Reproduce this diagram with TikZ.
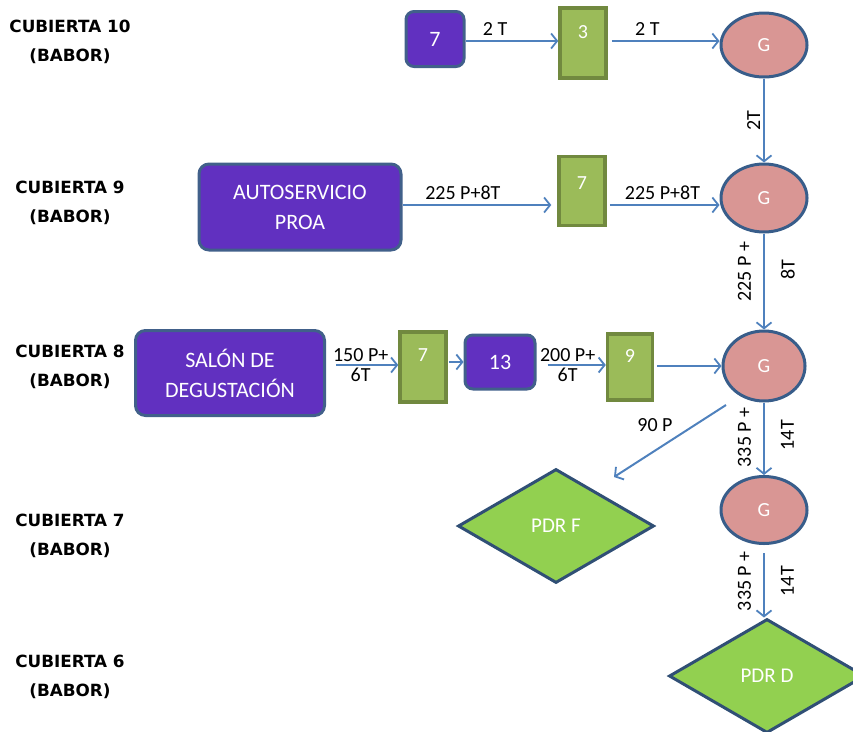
\documentclass[tikz,border=0pt]{standalone}
\usepackage{fontspec}
\setmainfont{Carlito}
\newfontfamily\deckfont{DejaVu Sans}
\usetikzlibrary{shapes.geometric,arrows.meta}
\definecolor{purp}{HTML}{6130C0}
\definecolor{purpline}{HTML}{41608A}
\definecolor{olive}{HTML}{9BBB59}
\definecolor{oliveline}{HTML}{71893F}
\definecolor{rose}{HTML}{D99694}
\definecolor{navy}{HTML}{385D8A}
\definecolor{lime}{HTML}{92D050}
\definecolor{flowc}{HTML}{4F81BD}
\begin{document}
\begin{tikzpicture}[x=1pt,y=-1pt,
  deck/.style={font=\deckfont\bfseries\fontsize{16.8}{29}\selectfont, align=center},
  pbox/.style={draw=purpline, line width=3pt, fill=purp, rounded corners=10pt,
    text=white, font=\fontsize{22}{30}\selectfont, align=center},
  gbox/.style={draw=oliveline, line width=3.5pt, fill=olive},
  gnum/.style={text=white, font=\fontsize{20}{24}\selectfont},
  gnode/.style={ellipse, draw=navy, line width=3pt, fill=rose, text=white,
    font=\fontsize{20}{22}\selectfont},
  pdr/.style={diamond, draw=navy!85!black, line width=3pt, fill=lime, text=white,
    font=\fontsize{21}{24}\selectfont},
  flow/.style={draw=flowc, line width=2pt,
    -{Straight Barb[length=6pt,width=15pt,line width=1.8pt]}},
  lbl/.style={font=\fontsize{20}{24}\selectfont, align=center, inner sep=2pt},
  vleft/.style={lbl, rotate=90, anchor=south, yshift=10pt},
  vright/.style={lbl, rotate=90, anchor=north, yshift=-14pt}
]
\useasboundingbox (0,0) rectangle (853,731);
\clip (0,0) rectangle (853,731);

% deck names
\node[deck] (d10) at (70,42)  {CUBIERTA 10\\(BABOR)};
\node[deck] (d9)  at (70,203) {CUBIERTA 9\\(BABOR)};
\node[deck] (d8)  at (70,367) {CUBIERTA 8\\(BABOR)};
\node[deck] (d7)  at (70,536) {CUBIERTA 7\\(BABOR)};
\node[deck] (d6)  at (70,677) {CUBIERTA 6\\(BABOR)};

% deck 10
\node[pbox, rounded corners=8pt, minimum width=58, minimum height=55] (p7) at (435,39) {7};
\node[gbox, minimum width=46, minimum height=70] (r3) at (583,43) {};
\node[gnum] (r3t) at ([yshift=11pt]r3.center) {3};
\node[gnode, minimum width=86, minimum height=64] (g1) at (764,45) {G};

% deck 9
\node[pbox, minimum width=202, minimum height=86] (auto) at (300,207) {AUTOSERVICIO\\PROA};
\node[gbox, minimum width=46, minimum height=69] (r7a) at (582,191) {};
\node[gnum] (r7at) at ([yshift=8pt]r7a.center) {7};
\node[gnode, minimum width=86, minimum height=68] (g2) at (764,198) {G};

% deck 8
\node[pbox, minimum width=189, minimum height=85] (salon) at (230,373) {SALÓN DE\\DEGUSTACIÓN};
\node[gbox, minimum width=46, minimum height=70] (r7b) at (423,367) {};
\node[gnum] (r7bt) at ([yshift=12pt]r7b.center) {7};
\node[pbox, rounded corners=8pt, minimum width=70, minimum height=54] (p13) at (500,362) {13};
\node[gbox, minimum width=45, minimum height=66] (r9) at (630,367) {};
\node[gnum] (r9t) at ([yshift=11pt]r9.center) {9};
\node[gnode, minimum width=82, minimum height=70] (g3) at (764,366) {G};

% deck 7
\node[pdr, minimum width=196, minimum height=114] (pdrf) at (556,526) {PDR F};
\node[gnode, minimum width=86, minimum height=67] (g4) at (764,510) {G};

% deck 6
\node[pdr, minimum width=196, minimum height=114] (pdrd) at (767,676) {PDR D};

% flows, deck 10
\draw[flow] ([yshift=-2pt]p7.east) -- ([yshift=-2pt]r3.west |- p7.east)
  node[lbl, above=3pt, pos=0.32] {2 T};
\draw[flow] ([xshift=4pt,yshift=2pt]r3.east) -- ([yshift=2pt]g1.west |- r3.east)
  node[lbl, above=3pt, pos=0.33] {2 T};
\draw[flow] (g1) -- (g2)
  node[lbl, rotate=90, anchor=south, pos=0.5, yshift=1pt] {2T};

% flows, deck 9
\draw[flow, shorten >=6pt] ([yshift=2pt]auto.east) -- ([yshift=2pt]r7a.west |- auto.east)
  node[lbl, above=2pt, pos=0.39] {225 P+8T};
\draw[flow] ([xshift=3pt,yshift=2pt]r7a.east |- auto.east) -- ([yshift=2pt]g2.west |- auto.east)
  node[lbl, above=2pt, pos=0.48] {225 P+8T};
\draw[flow] (g2) -- (g3)
  node[vleft, pos=0.4] {225 P +}
  node[vright, pos=0.38] {8T};

% flows, deck 8
\draw[flow, shorten <=10pt] ([yshift=8pt]salon.east) -- ([yshift=8pt]r7b.west |- salon.east)
  node[lbl, above=0pt, pos=0.48] {150 P+}
  node[lbl, below=0pt, pos=0.48] {6T};
\draw[flow, shorten <=1pt] (r7b.east |- p13.west) -- (p13.west);
\draw[flow, shorten <=11pt] ([yshift=-3pt]p13.east) -- ([yshift=-3pt]r9.west |- p13.east)
  node[lbl, above=0pt, pos=0.45] {200 P+}
  node[lbl, below=0pt, pos=0.45] {6T};
\draw[flow, shorten <=3pt] ([yshift=1pt]r9.east) -- ([yshift=1pt]g3.west |- r9.east);
\coordinate (fend) at (614,477);
\draw[flow] ([xshift=-38pt,yshift=-39pt]g3.center) -- (fend);
\node[lbl] (l90) at (655,425) {90 P};
\draw[flow] (g3) -- (g4)
  node[vleft, pos=0.48] {335 P +}
  node[vright, pos=0.45] {14T};

% flows, deck 7
\draw[flow, shorten <=8pt] (g4.south) -- (g4.south |- pdrd.north)
  node[vleft, pos=0.5] {335 P +}
  node[vright, pos=0.5] {14T};
\end{tikzpicture}
\end{document}
